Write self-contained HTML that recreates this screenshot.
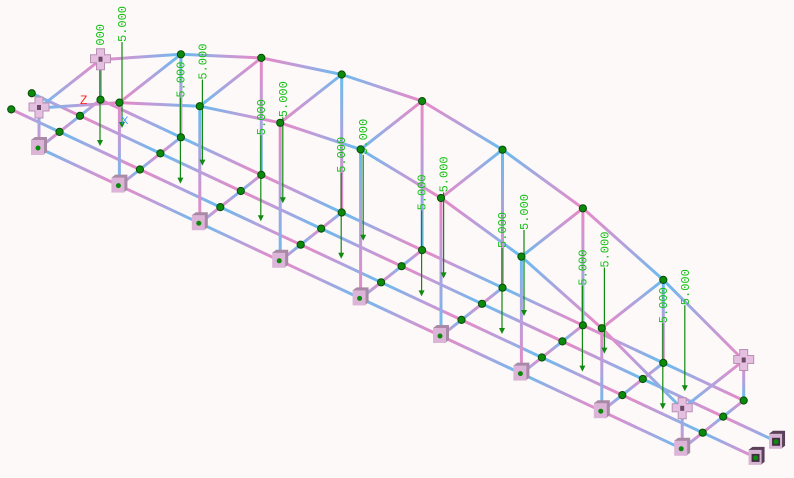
<!DOCTYPE html>
<html><head><meta charset="utf-8"><style>
html,body{margin:0;padding:0;background:#fdf9f8;}
svg{display:block;}
</style></head><body>
<svg id="s" width="794" height="478" viewBox="0 0 794 478" xmlns="http://www.w3.org/2000/svg">
<rect width="794" height="478" fill="#fdf9f8"/>
<g id="lines"></g><g id="loads"></g><g id="nodes"></g><g id="sup"></g>
<text x="80" y="104" fill="#ff2020" font-family="Liberation Sans, sans-serif" font-size="12">Z</text>
<text x="121" y="124" fill="#3399ff" font-family="Liberation Sans, sans-serif" font-size="11">X</text>
</svg>
<script>
const NS="http://www.w3.org/2000/svg";
const H=[40,83,117,138,149,138,117,83,40];
function P(u,v,h){return [39+80.4*u+20.5*v,148+37.6*u-16.1*v-(h||0)];}
const L=document.getElementById('lines'),LD=document.getElementById('loads'),N=document.getElementById('nodes'),S=document.getElementById('sup');
const defs=document.createElementNS(NS,'defs');document.getElementById('s').appendChild(defs);
let gid=0;
function el(p,tag,a){const e=document.createElementNS(NS,tag);for(const k in a)e.setAttribute(k,a[k]);p.appendChild(e);return e;}
function line(a,b,flip){
  const id='g'+(gid++);
  const g=el(defs,'linearGradient',{id:id,gradientUnits:'userSpaceOnUse',x1:a[0],y1:a[1],x2:b[0],y2:b[1]});
  const c1=flip?'#ea88c6':'#66bdf0',c2=flip?'#66bdf0':'#ea88c6';
  el(g,'stop',{offset:'0',  'stop-color':c1});
  el(g,'stop',{offset:'0.5','stop-color':'#b4a0dc'});
  el(g,'stop',{offset:'1',  'stop-color':c2});
  el(L,'line',{x1:a[0],y1:a[1],x2:b[0],y2:b[1],stroke:'url(#'+id+')','stroke-width':3});
}
// deck longitudinal
for(let v=0;v<4;v++){
  let us=[0,1,2,3,4,5,6,7,8];
  if(v==1||v==2){us=[-0.6].concat(us).concat([8.67]);}
  for(let i=0;i<us.length-1;i++)line(P(us[i],v),P(us[i+1],v),(i+v)%2);
}
// deck transverse
for(let u=0;u<=8;u++)for(let v=0;v<3;v++)line(P(u,v),P(u,v+1),(u+v)%2);
// arches
for(let u=0;u<8;u++){line(P(u,0,H[u]),P(u+1,0,H[u+1]),u%2);line(P(u,3,H[u]),P(u+1,3,H[u+1]),(u+1)%2);}
// verticals and top struts
for(let u=0;u<=8;u++){
  line(P(u,0,H[u]),P(u,0),u%2);line(P(u,3,H[u]),P(u,3),(u+1)%2);
  line(P(u,0,H[u]),P(u,3,H[u]),u%2);
}
// loads
for(let u=0;u<=7;u++){
  const A=[100+80.4*u,146+37.6*u],B=[122+80.4*u,128+37.6*u];
  for(const q of [A,B]){
    const top=q[1]-86;
    el(LD,'line',{x1:q[0],y1:top,x2:q[0],y2:q[1]-3,stroke:'#108a10','stroke-width':1.2});
    el(LD,'path',{d:`M${q[0]-3},${q[1]-6}L${q[0]+3},${q[1]-6}L${q[0]},${q[1]}Z`,fill:'#108a10'});
    const t=el(LD,'text',{x:0,y:0,fill:'#18c018','font-family':'Liberation Mono, monospace','font-size':'12',transform:`translate(${q[0]+4},${top}) rotate(-90)`});
    t.textContent='5.000';
  }
}
// nodes
function node(p){el(N,'circle',{cx:p[0],cy:p[1],r:3.6,fill:'#0c8a0c',stroke:'#064d06','stroke-width':1});}
for(let u=0;u<=8;u++){node(P(u,1));node(P(u,2));node(P(u,3));}
node(P(-0.6,1));node(P(-0.6,2));
for(let u=1;u<=7;u++){node(P(u,0,H[u]));node(P(u,3,H[u]));}
// supports
function plate(p,dark){
  el(S,'path',{d:`M${p[0]-8},${p[1]-8}l4,-3l12,0l0,15l-4,3z`,fill:dark?'#5a4058':'#a88aa6'});
  el(S,'rect',{x:p[0]-8,y:p[1]-8,width:13,height:15,fill:dark?'#d8b4d4':'#dcb4d8'});
  if(dark)el(S,'rect',{x:p[0]-5,y:p[1]-4,width:8,height:8,fill:'#403040'});
  el(S,'circle',{cx:p[0]-1,cy:p[1],r:2.5,fill:'#0c8a0c'});
}
for(let u=0;u<=8;u++)plate(P(u,0));
plate(P(8.67,1),1);plate(P(8.67,2),1);
function pin(p){
  const [x,y]=p;
  el(S,'path',{d:`M${x-4},${y-11}h8v6h6v8h-6v7h-8v-7h-6v-8h6z`,fill:'#e4bfe0',stroke:'#b890b4','stroke-width':1});
  el(S,'rect',{x:x-2,y:y-3,width:4,height:5,fill:'#6a4a68'});
}
for(const u of [0,8]){pin(P(u,0,H[u]));pin(P(u,3,H[u]));}
</script>
</body></html>
